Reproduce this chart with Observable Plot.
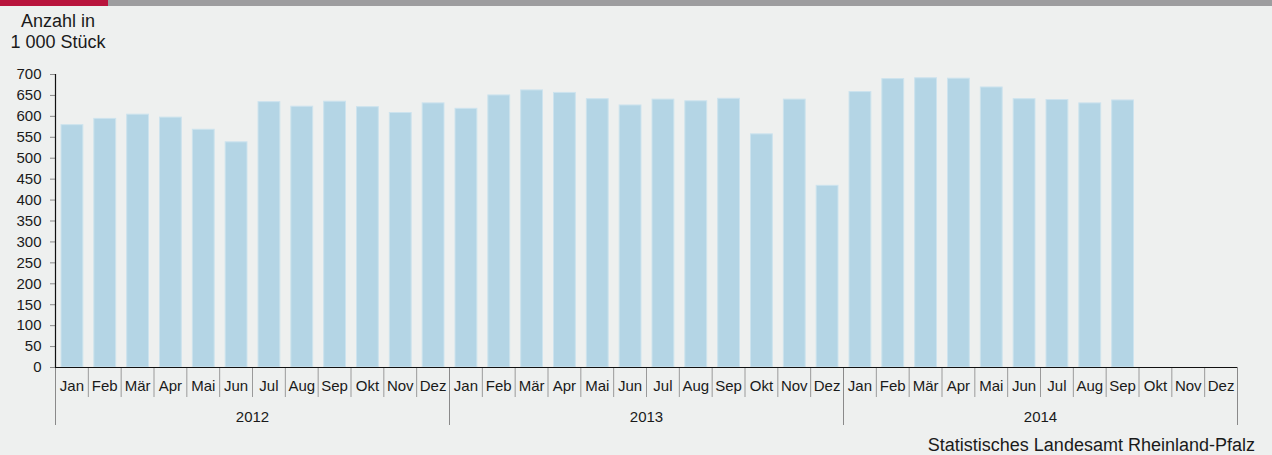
<!DOCTYPE html>
<html><head><meta charset="utf-8">
<script src="https://cdn.jsdelivr.net/npm/d3@7"></script>
<script src="https://cdn.jsdelivr.net/npm/@observablehq/plot@0.6"></script>
<style>
html,body{margin:0;padding:0;background:#eef0ef;width:1272px;height:455px;overflow:hidden;font-family:"Liberation Sans",Arial,Helvetica,sans-serif;color:#1a1a1a;}
#wrap{position:relative;width:1272px;height:455px;}
#bar{position:absolute;left:0;top:0;width:1272px;height:6px;background:#9d9d9f;}
#bar .red{position:absolute;left:0;top:0;width:108px;height:6px;background:#b8143c;}
#title{position:absolute;left:8px;top:11px;width:100px;text-align:center;font-size:18px;line-height:21px;}
#chart{position:absolute;left:0;top:0;}
#source{position:absolute;right:17px;top:436px;font-size:18px;line-height:19px;}
</style></head>
<body><div id="wrap">
<div id="bar"><div class="red"></div></div>
<div id="chart"></div>
<div id="title">Anzahl in<br>1 000 Stück</div>
<div id="source">Statistisches Landesamt Rheinland-Pfalz</div>
</div>
<script>
const months = ["Jan","Feb","Mär","Apr","Mai","Jun","Jul","Aug","Sep","Okt","Nov","Dez"];
const years = ["2012","2013","2014"];
const values2012 = [579, 594, 604, 597, 568, 538, 634, 623, 635, 622, 608, 631];
const values2013 = [618, 650, 662, 656, 641, 626, 640, 636, 642, 557, 640, 434];
const values2014 = [658, 689, 691, 690, 669, 641, 639, 631, 638];
const yTicks = d3.range(0, 701, 50);

const allValues = [...values2012, ...values2013, ...values2014];
const data = allValues.map((v, i) => ({i, value: v}));
const nSlots = years.length * months.length;

const plot = Plot.plot({
  width: 1272,
  height: 455,
  marginTop: 74,
  marginBottom: 88,
  marginLeft: 55,
  marginRight: 35,
  style: {background: "transparent", fontFamily: "'Liberation Sans', Arial, sans-serif", color: "#1a1a1a"},
  x: {domain: [0, nSlots], axis: null},
  y: {domain: [0, 700], axis: null},
  marks: [
    Plot.rectY(data, {x1: "i", x2: d => d.i + 1, y: "value", insetLeft: 6, insetRight: 5, fill: "#b4d5e5", stroke: "#cde3ee", strokeWidth: 1}),
    Plot.axisY(yTicks, {tickSize: 5, tickPadding: 9, stroke: "#8a8a8a", fill: "#1a1a1a", fontSize: 15, label: null}),
    Plot.axisX(d3.range(nSlots + 1), {tickSize: 30, stroke: "#9a9a9a", fill: "none", label: null}),
    Plot.axisX(d3.range(0, nSlots + 1, 12), {tickSize: 58, stroke: "#8a8a8a", fill: "none", label: null}),
    Plot.axisX(d3.range(nSlots).map(i => i + 0.5), {tickSize: 0, tickPadding: 13, stroke: "none", fill: "#1a1a1a", fontSize: 15, tickFormat: d => months[Math.floor(d) % 12], label: null}),
    Plot.axisX(years.map((y, k) => k * 12 + 6), {tickSize: 0, tickPadding: 44, stroke: "none", fill: "#1a1a1a", fontSize: 15, tickFormat: d => years[Math.floor(d / 12)], label: null}),
    Plot.ruleX([0], {stroke: "#111", strokeWidth: 1.2}),
    Plot.ruleY([0], {stroke: "#111", strokeWidth: 1.2})
  ]
});
document.getElementById("chart").appendChild(plot);
</script>
</body></html>
